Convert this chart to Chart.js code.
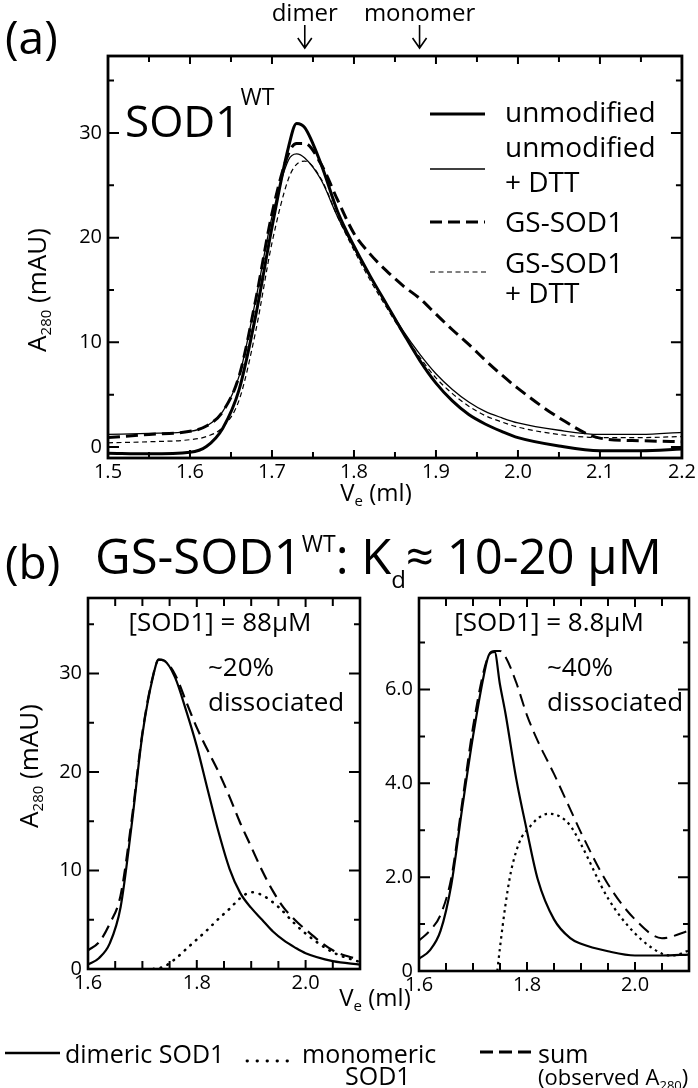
<!DOCTYPE html>
<html>
<head>
<meta charset="utf-8">
<script src="https://cdn.jsdelivr.net/npm/chart.js@4.4.1/dist/chart.umd.min.js"></script>
<style>
  body { margin: 0; background: #fff; }
  #page { position: relative; width: 698px; height: 1088px; overflow: hidden; background: #fff;
          font-family: 'Open Sans', sans-serif; color: #000; }
  canvas { position: absolute; }
  .t { position: absolute; line-height: 1; white-space: nowrap; }
  .t sub { font-size: 15px; vertical-align: -5px; line-height: 0; }
  .rot { transform: translate(-50%, -50%) rotate(-90deg); }
  .ctr { transform: translateX(-50%); }
</style>
</head>
<body>
<div id="page">
  <canvas id="chartA" width="698" height="520" style="left:0;top:0"></canvas>
  <canvas id="chartB" width="380" height="430" style="left:0;top:580px"></canvas>
  <canvas id="chartC" width="318" height="430" style="left:380px;top:580px"></canvas>

  <svg width="698" height="1088" style="position:absolute;left:0;top:0" stroke="#000">
    <line x1="430" y1="114" x2="485" y2="114" stroke-width="3"/>
    <line x1="430" y1="169" x2="485" y2="169" stroke-width="1.3"/>
    <line x1="430" y1="222" x2="485" y2="222" stroke-width="3" stroke-dasharray="12 6"/>
    <line x1="430" y1="272" x2="489" y2="272" stroke-width="1.2" stroke-dasharray="5 3.5"/>
    <line x1="5" y1="1053" x2="60" y2="1053" stroke-width="2.5"/>
    <line x1="247" y1="1061" x2="295" y2="1061" stroke-width="2.8" stroke-dasharray="0.5 9.5" stroke-linecap="round"/>
    <line x1="480" y1="1052" x2="531" y2="1052" stroke-width="3" stroke-dasharray="13 6"/>
  </svg>

  <!-- panel (a) -->
  <div class="t" style="left:5px;top:13px;font-size:46px">(a)</div>
  <div class="t" style="left:125px;top:96px;font-size:44px">SOD1<span style="font-size:23px;vertical-align:32px;line-height:0">WT</span></div>
  <div class="t" style="left:505px;top:97px;font-size:28px">unmodified</div>
  <div class="t" style="left:505px;top:132px;font-size:28px">unmodified</div>
  <div class="t" style="left:505px;top:167px;font-size:28px">+ DTT</div>
  <div class="t" style="left:505px;top:207px;font-size:28px">GS-SOD1</div>
  <div class="t" style="left:505px;top:248px;font-size:28px">GS-SOD1</div>
  <div class="t" style="left:505px;top:278px;font-size:28px">+ DTT</div>
  <div class="t rot" style="left:36px;top:290px;font-size:26px">A<sub>280</sub> (mAU)</div>
  <div class="t ctr" style="left:376px;top:480px;font-size:24px">V<sub>e</sub> (ml)</div>

  <!-- panel (b) -->
  <div class="t" style="left:5px;top:538px;font-size:46px">(b)</div>
  <div class="t" style="left:95px;top:531px;font-size:49px">GS-SOD1<span style="font-size:23px;vertical-align:22px;line-height:0">WT</span>: K<span style="font-size:24px;vertical-align:-14px;line-height:0">d</span>≈ 10-20 µM</div>
  <div class="t ctr" style="left:220px;top:608px;font-size:26px">[SOD1] = 88µM</div>
  <div class="t" style="left:208px;top:653px;font-size:26px">~20%</div>
  <div class="t" style="left:208px;top:688px;font-size:26px">dissociated</div>
  <div class="t ctr" style="left:549px;top:608px;font-size:26px">[SOD1] = 8.8µM</div>
  <div class="t" style="left:547px;top:653px;font-size:26px">~40%</div>
  <div class="t" style="left:547px;top:688px;font-size:26px">dissociated</div>
  <div class="t rot" style="left:28px;top:766px;font-size:26px">A<sub>280</sub> (mAU)</div>
  <div class="t ctr" style="left:375px;top:985px;font-size:24px">V<sub>e</sub> (ml)</div>

  <!-- legend (b) -->
  <div class="t" style="left:65px;top:1041px;font-size:25px">dimeric SOD1</div>
  <div class="t" style="left:302px;top:1041px;font-size:25px">monomeric</div>
  <div class="t" style="left:345px;top:1063px;font-size:25px">SOD1</div>
  <div class="t" style="left:538px;top:1041px;font-size:25px">sum</div>
  <div class="t" style="left:538px;top:1065px;font-size:22px">(observed A<sub style="font-size:13px">280</sub>)</div>
</div>

<script>
// ---- panel (a): SOD1 WT elution profiles ----
const VE_A = [1.50, 1.55, 1.60, 1.62, 1.64, 1.66, 1.68, 1.70, 1.72, 1.73, 1.74, 1.76, 1.78, 1.80,
              1.82, 1.84, 1.86, 1.88, 1.90, 1.92, 1.94, 1.96, 1.98, 2.00, 2.05, 2.10, 2.15, 2.20];
const UNMODIFIED     = [-0.6, -0.65, -0.5, 0.05, 1.8, 5.5, 12.5, 21.0, 28.6, 30.9, 30.5, 27.0, 22.5, 19.2,
                        16.3, 13.6, 10.9, 8.3, 6.1, 4.4, 3.1, 2.2, 1.5, 0.9, 0.1, -0.35, -0.35, -0.2];
const UNMODIFIED_DTT = [1.2, 1.3, 1.5, 2.0, 3.4, 6.8, 14.0, 22.0, 27.4, 28.0, 27.6, 25.5, 22.0, 19.0,
                        16.2, 13.6, 11.1, 8.9, 7.0, 5.5, 4.3, 3.4, 2.8, 2.3, 1.6, 1.2, 1.2, 1.4];
const GS_SOD1        = [0.9, 1.2, 1.5, 2.0, 3.4, 6.8, 14.0, 22.3, 28.0, 29.0, 29.0, 27.0, 23.6, 20.4,
                        18.4, 16.8, 15.4, 14.2, 12.7, 11.2, 9.8, 8.3, 6.9, 5.6, 2.8, 0.85, 0.6, 0.5];
const GS_SOD1_DTT    = [0.4, 0.5, 0.7, 1.0, 1.9, 4.5, 11.0, 19.5, 25.6, 27.0, 27.3, 25.6, 22.0, 18.8,
                        15.9, 13.3, 10.8, 8.6, 6.6, 5.1, 3.9, 3.0, 2.4, 1.9, 1.2, 0.9, 0.9, 1.0];
const MARKER_VE = [1.74, 1.88];
const MARKER_LABELS = ['dimer', 'monomer'];
const X_LABELS_A = [1.5, 1.6, 1.7, 1.8, 1.9, 2.0, 2.1, 2.2];
const X_MINOR_A = [1.55, 1.65, 1.75, 1.85, 1.95, 2.05, 2.15];
const Y_LABELS_A = [0, 10, 20, 30];
const Y_MINOR_A = [5, 15, 25, 35];

// ---- panel (b) left: [SOD1] = 88 uM ----
const VE_B = [1.60, 1.62, 1.64, 1.66, 1.68, 1.70, 1.72, 1.73, 1.74, 1.76, 1.78, 1.80,
              1.82, 1.84, 1.86, 1.88, 1.90, 1.92, 1.94, 1.96, 1.98, 2.00, 2.05, 2.10];
const DIMER_88 = [0.45, 1.1, 2.6, 6.3, 14.5, 23.8, 29.8, 31.4, 31.3, 29.6, 26.3, 22.6,
                  18.2, 13.9, 10.2, 7.7, 6.2, 5.0, 3.8, 2.9, 2.2, 1.6, 0.8, 0.45];
const SUM_88   = [1.9, 2.7, 4.6, 7.5, 15.0, 24.0, 29.9, 31.4, 31.3, 29.9, 27.2, 24.5,
                  22.2, 20.0, 17.5, 14.8, 12.4, 10.0, 7.9, 6.2, 5.0, 4.0, 1.9, 0.9];
const VE_B_MONO = [1.72, 1.74, 1.76, 1.78, 1.80, 1.82, 1.84, 1.86, 1.88, 1.90, 1.92, 1.95, 1.98, 2.00, 2.05, 2.10];
const MONO_88   = [0.0, 0.25, 1.0, 2.0, 3.0, 4.0, 5.1, 6.1, 7.2, 7.8, 7.5, 6.3, 4.6, 3.6, 1.7, 0.7];
const X_LABELS_B = [1.6, 1.8, 2.0];
const X_MINOR_B = [1.65, 1.7, 1.75, 1.85, 1.9, 1.95, 2.05];
const Y_LABELS_B = [0, 10, 20, 30];
const Y_MINOR_B = [5, 15, 25, 35];

// ---- panel (b) right: [SOD1] = 8.8 uM ----
const VE_C = [1.60, 1.62, 1.64, 1.66, 1.68, 1.70, 1.72, 1.73, 1.74, 1.75, 1.76, 1.78,
              1.80, 1.82, 1.85, 1.88, 1.90, 1.95, 2.00, 2.05, 2.10];
const DIMER_8 = [0.26, 0.44, 0.86, 1.85, 3.47, 5.0, 6.3, 6.75, 6.8, 6.1, 5.5, 4.1,
                 2.98, 1.95, 1.1, 0.7, 0.58, 0.42, 0.33, 0.33, 0.35];
const SUM_8   = [0.65, 0.86, 1.2, 2.0, 3.6, 5.2, 6.4, 6.75, 6.82, 6.82, 6.7, 6.15,
                 5.45, 4.9, 4.2, 3.45, 2.95, 1.85, 1.1, 0.7, 0.86];
const VE_C_MONO = [1.745, 1.75, 1.76, 1.77, 1.78, 1.79, 1.80, 1.82, 1.84, 1.86, 1.88, 1.90, 1.95, 2.00, 2.05, 2.07, 2.10];
const MONO_8    = [0.0, 0.5, 1.4, 2.1, 2.55, 2.85, 3.0, 3.25, 3.35, 3.3, 3.1, 2.7, 1.55, 0.8, 0.37, 0.33, 0.44];
const X_LABELS_C = [1.6, 1.8, 2.0];
const X_MINOR_C = [1.65, 1.7, 1.75, 1.85, 1.9, 1.95, 2.05];
const Y_LABELS_C = [0, 2, 4, 6];
const Y_MINOR_C = [1, 3, 5, 7];

const tickFont = { family: 'Open Sans', size: 20 };

// inward ticks on all four sides + frame (+ optional arrows above the plot)
const frameTicks = {
  id: 'frameTicks',
  afterDatasetsDraw(chart, args, o) {
    const { ctx, chartArea: a, scales: { x, y } } = chart;
    ctx.save();
    ctx.strokeStyle = '#000';
    ctx.lineWidth = o.tickWidth;
    ctx.beginPath();
    const xt = (vals, len) => vals.forEach(v => {
      const p = x.getPixelForValue(v);
      ctx.moveTo(p, a.bottom); ctx.lineTo(p, a.bottom - len);
      ctx.moveTo(p, a.top); ctx.lineTo(p, a.top + len);
    });
    const yt = (vals, len) => vals.forEach(v => {
      const p = y.getPixelForValue(v);
      ctx.moveTo(a.left, p); ctx.lineTo(a.left + len, p);
      ctx.moveTo(a.right, p); ctx.lineTo(a.right - len, p);
    });
    xt(o.xMajor, o.xMajorLen); xt(o.xMinor, o.xMinorLen);
    yt(o.yMajor, o.yMajorLen); yt(o.yMinor, o.yMinorLen);
    ctx.stroke();
    ctx.lineWidth = o.frameWidth;
    ctx.strokeRect(a.left, a.top, a.right - a.left, a.bottom - a.top);
    if (o.arrows) {
      ctx.lineWidth = 1.6;
      ctx.beginPath();
      o.arrows.values.forEach(v => {
        const p = x.getPixelForValue(v);
        ctx.moveTo(p, o.arrows.top); ctx.lineTo(p, o.arrows.bottom);
        ctx.moveTo(p - 7, o.arrows.bottom - 10); ctx.lineTo(p, o.arrows.bottom); ctx.lineTo(p + 7, o.arrows.bottom - 10);
      });
      ctx.stroke();
    }
    ctx.restore();
  }
};

function series(ve, y, w, dash, cap) {
  return {
    data: ve.map((v, i) => ({ x: v, y: y[i] })),
    borderColor: '#000', borderWidth: w, borderDash: dash || [], borderCapStyle: cap || 'butt',
    cubicInterpolationMode: 'monotone', pointRadius: 0, fill: false
  };
}

function makeChart(id, datasets, o) {
  return new Chart(document.getElementById(id), {
    type: 'line',
    data: { datasets },
    options: {
      responsive: false, animation: false, devicePixelRatio: 1,
      layout: { padding: { top: o.padTop, right: o.padRight, left: 0, bottom: 0 } },
      plugins: { legend: { display: false }, tooltip: { enabled: false }, frameTicks: o.ticks },
      scales: {
        x: {
          type: 'linear', min: o.xMin, max: o.xMax,
          afterBuildTicks: s => { s.ticks = o.xLabels.map(v => ({ value: v })); },
          afterFit: s => { s.height = o.xHeight; },
          ticks: { callback: v => v.toFixed(1), font: tickFont, color: '#000', padding: 2, maxRotation: 0, autoSkip: false },
          grid: { display: false, drawTicks: false }, border: { display: false }
        },
        y: {
          type: 'linear', min: o.yMin, max: o.yMax,
          afterBuildTicks: s => { s.ticks = o.yLabels.map(v => ({ value: v })); },
          afterFit: s => { s.width = o.yWidth; },
          ticks: { callback: o.yFormat, font: tickFont, color: '#000', padding: 6, autoSkip: false },
          grid: { display: false, drawTicks: false }, border: { display: false }
        }
      }
    },
    plugins: [frameTicks]
  });
}

const chartA = makeChart('chartA', [
  series(VE_A, UNMODIFIED, 3),
  series(VE_A, UNMODIFIED_DTT, 1.3),
  series(VE_A, GS_SOD1, 3, [12, 6]),
  series(VE_A, GS_SOD1_DTT, 1.2, [5, 3.5])
], {
  padTop: 56, padRight: 10, xHeight: 62, yWidth: 108,
  xMin: 1.5, xMax: 2.2, yMin: -1.05, yMax: 37.35,
  xLabels: X_LABELS_A, yLabels: Y_LABELS_A, yFormat: v => String(v),
  ticks: { xMajor: X_LABELS_A, xMinor: X_MINOR_A, yMajor: Y_LABELS_A, yMinor: Y_MINOR_A,
           xMajorLen: 8, xMinorLen: 6, yMajorLen: 11, yMinorLen: 6, tickWidth: 2, frameWidth: 2.8,
           arrows: { values: MARKER_VE, top: 25, bottom: 48 } }
});

makeChart('chartB', [
  series(VE_B, DIMER_88, 2.2),
  series(VE_B_MONO, MONO_88, 2.6, [0.5, 7], 'round'),
  series(VE_B, SUM_88, 2.2, [13, 7])
], {
  padTop: 15, padRight: 20, xHeight: 41, yWidth: 88,
  xMin: 1.6, xMax: 2.1, yMin: 0, yMax: 37.66,
  xLabels: X_LABELS_B, yLabels: Y_LABELS_B, yFormat: v => String(v),
  ticks: { xMajor: X_LABELS_B, xMinor: X_MINOR_B, yMajor: Y_LABELS_B, yMinor: Y_MINOR_B,
           xMajorLen: 9, xMinorLen: 8, yMajorLen: 11, yMinorLen: 6, tickWidth: 2, frameWidth: 2.6 }
});

makeChart('chartC', [
  series(VE_C, DIMER_8, 2.2),
  series(VE_C_MONO, MONO_8, 2.2, [2.5, 4]),
  series(VE_C, SUM_8, 2.0, [13, 7])
], {
  padTop: 15, padRight: 9, xHeight: 39, yWidth: 39,
  xMin: 1.6, xMax: 2.1, yMin: 0, yMax: 7.95,
  xLabels: X_LABELS_C, yLabels: Y_LABELS_C, yFormat: v => (v === 0 ? '0' : v.toFixed(1)),
  ticks: { xMajor: X_LABELS_C, xMinor: X_MINOR_C, yMajor: Y_LABELS_C, yMinor: Y_MINOR_C,
           xMajorLen: 9, xMinorLen: 8, yMajorLen: 11, yMinorLen: 6, tickWidth: 2, frameWidth: 2.6 }
});

// "dimer" / "monomer" labels centred over their arrows
const page = document.getElementById('page');
MARKER_LABELS.forEach((txt, i) => {
  const el = document.createElement('div');
  el.className = 't ctr';
  el.style.fontSize = '24px';
  el.style.top = '0px';
  el.style.left = chartA.scales.x.getPixelForValue(MARKER_VE[i]) + 'px';
  el.textContent = txt;
  page.appendChild(el);
});
</script>
</body>
</html>
